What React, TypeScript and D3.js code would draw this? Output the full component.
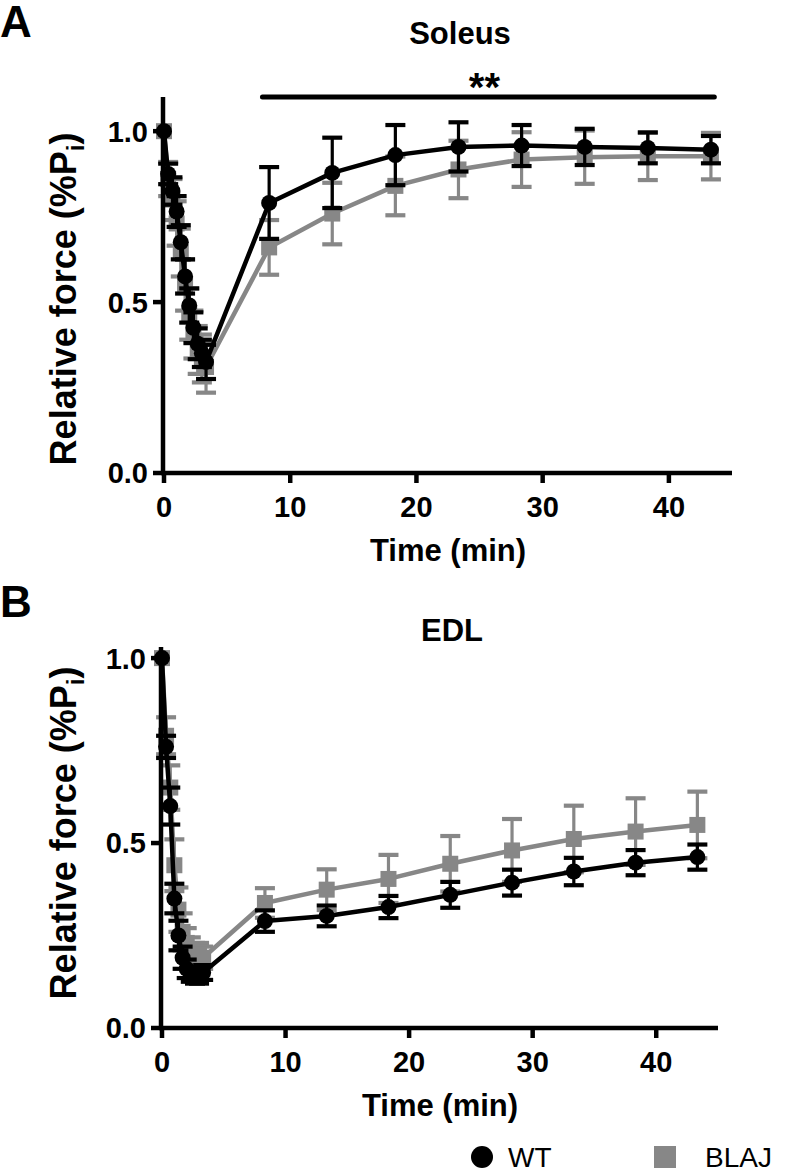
import React from "react";
import * as d3 from "d3";

const times = [0, 0.33, 0.67, 1, 1.33, 1.67, 2, 2.33, 2.67, 3, 3.33, 8.33, 13.33, 18.33, 23.33, 28.33, 33.33, 38.33, 43.33];

const soleusWT = [1.0, 0.875, 0.825, 0.765, 0.675, 0.575, 0.49, 0.425, 0.378, 0.35, 0.325, 0.79, 0.878, 0.93, 0.954, 0.958, 0.954, 0.951, 0.946];
const soleusWTsd = [0, 0.03, 0.04, 0.045, 0.05, 0.05, 0.05, 0.045, 0.045, 0.04, 0.05, 0.105, 0.103, 0.088, 0.072, 0.06, 0.053, 0.045, 0.04];
const soleusBLAJ = [1.0, 0.86, 0.8, 0.73, 0.645, 0.55, 0.465, 0.405, 0.36, 0.335, 0.31, 0.66, 0.759, 0.84, 0.888, 0.917, 0.924, 0.927, 0.927];
const soleusBLAJsd = [0, 0.05, 0.06, 0.065, 0.07, 0.075, 0.075, 0.07, 0.07, 0.07, 0.075, 0.08, 0.09, 0.086, 0.084, 0.08, 0.078, 0.07, 0.068];

const edlWT = [1.0, 0.76, 0.6, 0.35, 0.25, 0.19, 0.16, 0.145, 0.14, 0.14, 0.15, 0.289, 0.303, 0.327, 0.36, 0.393, 0.423, 0.447, 0.462];
const edlWTsd = [0, 0.03, 0.05, 0.04, 0.04, 0.03, 0.025, 0.02, 0.02, 0.02, 0.02, 0.029, 0.028, 0.03, 0.035, 0.035, 0.037, 0.034, 0.034];
const edlBLAJ = [1.0, 0.79, 0.65, 0.44, 0.32, 0.26, 0.23, 0.21, 0.2, 0.2, 0.19, 0.338, 0.374, 0.403, 0.444, 0.48, 0.511, 0.531, 0.549];
const edlBLAJsd = [0, 0.05, 0.06, 0.07, 0.06, 0.05, 0.04, 0.035, 0.03, 0.03, 0.03, 0.04, 0.055, 0.065, 0.075, 0.085, 0.09, 0.09, 0.09];

const xTicks = [0, 10, 20, 30, 40];
const yTicks = [0, 0.5, 1.0];
const sigRange = [7.8, 43.6];
const seriesNames = ["WT", "BLAJ"];

const BLACK = "#000";
const GRAY = "#878787";
const FONT = "'Liberation Sans', Arial, Helvetica, sans-serif";

type PanelProps = {
  letter: string;
  title: string;
  x0: number; x1: number; yTop: number; yBottom: number; yMax: number;
  wt: number[]; wtSd: number[]; blaj: number[]; blajSd: number[];
  letterY: number; titleY: number; yTitleY: number;
  sig?: boolean;
};

function Series({ xs, ys, vals, sds, color, shape }: any) {
  const line = d3.line<number>().x((_, i) => xs(times[i])).y((v) => ys(v));
  return (
    <g>
      <path d={line(vals) || ""} fill="none" stroke={color} strokeWidth={4.5} strokeLinejoin="round" />
      {vals.map((v: number, i: number) => {
        const cx = xs(times[i]);
        const hi = ys(v + sds[i]);
        const lo = ys(v - sds[i]);
        if (sds[i] <= 0) return null;
        return (
          <g key={"e" + i}>
            <line x1={cx} x2={cx} y1={hi} y2={lo} stroke={color} strokeWidth={3.2} />
            <line x1={cx - 10} x2={cx + 10} y1={hi} y2={hi} stroke={color} strokeWidth={4.2} />
            <line x1={cx - 10} x2={cx + 10} y1={lo} y2={lo} stroke={color} strokeWidth={4.2} />
          </g>
        );
      })}
      {vals.map((v: number, i: number) => {
        const cx = xs(times[i]);
        const cy = ys(v);
        return shape === "circle" ? (
          <circle key={"m" + i} cx={cx} cy={cy} r={8} fill={color} />
        ) : (
          <rect key={"m" + i} x={cx - 8} y={cy - 8} width={16} height={16} fill={color} />
        );
      })}
    </g>
  );
}

function Panel(p: PanelProps) {
  const xs = d3.scaleLinear().domain([0, 45]).range([p.x0, p.x1]);
  const ys = d3.scaleLinear().domain([0, p.yMax]).range([p.yBottom, p.yTop]);
  const cx = (p.x0 + p.x1) / 2;
  return (
    <g fontFamily={FONT}>
      <text x={0} y={p.letterY} fontSize={44} fontWeight="bold">{p.letter}</text>
      <text x={cx + 12} y={p.titleY} fontSize={31} fontWeight="bold" textAnchor="middle">{p.title}</text>
      {p.sig && (
        <g>
          <line x1={xs(sigRange[0])} x2={xs(sigRange[1])} y1={p.yTop} y2={p.yTop} stroke={BLACK} strokeWidth={5} strokeLinecap="round" />
          <text x={(xs(sigRange[0]) + xs(sigRange[1])) / 2 - 4} y={p.yTop + 4} fontSize={40} fontWeight="bold" textAnchor="middle">**</text>
        </g>
      )}
      <Series xs={xs} ys={ys} vals={p.blaj} sds={p.blajSd} color={GRAY} shape="square" />
      <Series xs={xs} ys={ys} vals={p.wt} sds={p.wtSd} color={BLACK} shape="circle" />
      <line x1={p.x0 - 1} x2={p.x0 - 1} y1={p.yTop} y2={p.yBottom + 2} stroke={BLACK} strokeWidth={4.5} />
      <line x1={p.x0 - 3} x2={p.x1} y1={p.yBottom} y2={p.yBottom} stroke={BLACK} strokeWidth={4.5} />
      {yTicks.map((t) => (
        <g key={"y" + t}>
          <line x1={p.x0 - 11} x2={p.x0 - 1} y1={ys(t)} y2={ys(t)} stroke={BLACK} strokeWidth={4.5} />
          <text x={p.x0 - 16} y={ys(t)} dy="0.36em" fontSize={29} fontWeight="bold" textAnchor="end">{t.toFixed(1)}</text>
        </g>
      ))}
      {xTicks.map((t) => (
        <g key={"x" + t}>
          <line x1={xs(t)} x2={xs(t)} y1={p.yBottom} y2={p.yBottom + 10} stroke={BLACK} strokeWidth={4.5} />
          <text x={xs(t)} y={p.yBottom + 44} fontSize={29} fontWeight="bold" textAnchor="middle">{t}</text>
        </g>
      ))}
      <text x={cx} y={p.yBottom + 88} fontSize={31} fontWeight="bold" textAnchor="middle">Time (min)</text>
      <text transform={`translate(76, ${p.yTitleY}) rotate(-90)`} fontSize={36} fontWeight="bold" textAnchor="middle">
        Relative force (%P<tspan fontSize={24} dy={8}>i</tspan><tspan dy={-8}>)</tspan>
      </text>
    </g>
  );
}

export default function App() {
  return (
    <svg width={800} height={1176} style={{ position: "absolute", left: 0, top: 0, background: "#fff" }}>
      <rect width={800} height={1176} fill="#fff" />
      <Panel letter="A" title="Soleus" x0={164} x1={732} yTop={97} yBottom={473} yMax={1.1}
        wt={soleusWT} wtSd={soleusWTsd} blaj={soleusBLAJ} blajSd={soleusBLAJsd}
        letterY={37} titleY={44} yTitleY={299} sig />
      <Panel letter="B" title="EDL" x0={162} x1={718} yTop={647} yBottom={1028} yMax={1.03}
        wt={edlWT} wtSd={edlWTsd} blaj={edlBLAJ} blajSd={edlBLAJsd}
        letterY={617} titleY={641} yTitleY={833} />
      <g fontFamily={FONT}>
        <circle cx={482} cy={1157} r={11} fill={BLACK} />
        <text x={508} y={1167} fontSize={28}>{seriesNames[0]}</text>
        <rect x={654} y={1146} width={22} height={22} fill={GRAY} />
        <text x={705} y={1167} fontSize={28}>{seriesNames[1]}</text>
      </g>
    </svg>
  );
}
